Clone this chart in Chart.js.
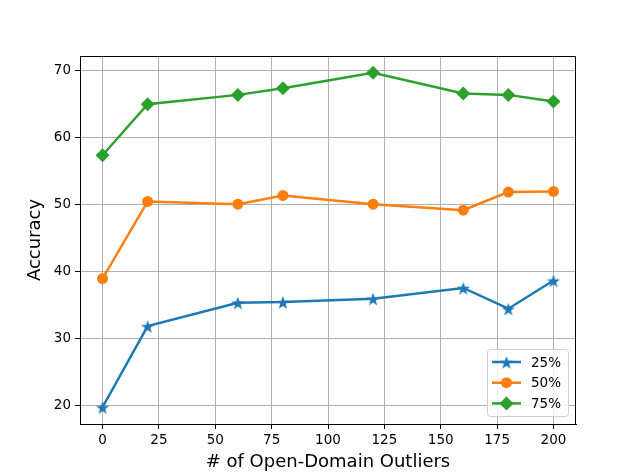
<!DOCTYPE html>
<html>
<head>
<meta charset="utf-8">
<script src="https://cdn.jsdelivr.net/npm/chart.js@4/dist/chart.umd.min.js"></script>
<style>
  html, body { margin: 0; padding: 0; background: #fff; }
  #wrap { width: 640px; height: 476px; }
</style>
</head>
<body>
<div id="wrap"><canvas id="accChart" width="640" height="476"></canvas></div>
<script>
// data
const outliers = [0, 20, 60, 80, 120, 160, 180, 200];
const acc25 = [19.7, 31.8, 35.3, 35.4, 35.9, 37.5, 34.4, 38.6];
const acc50 = [38.9, 50.4, 50.0, 51.3, 50.0, 49.1, 51.8, 51.9];
const acc75 = [57.3, 64.9, 66.3, 67.3, 69.6, 66.5, 66.3, 65.3];
const seriesLabels = ["25%", "50%", "75%"];
const xTicks = [0, 25, 50, 75, 100, 125, 150, 175, 200];
const yTicks = [20, 30, 40, 50, 60, 70];

const FONT = "'DejaVu Sans', sans-serif";
const BLUE = "#1f77b4", ORANGE = "#ff7f0e", GREEN = "#2ca02c";

// filled five-point star, matplotlib style
function makeStar(color, r) {
    const c = document.createElement("canvas");
    const s = Math.ceil(r * 2 + 4);
    c.width = s; c.height = s;
    const g = c.getContext("2d");
    g.fillStyle = color;
    g.beginPath();
    for (let i = 0; i < 10; i++) {
        const rr = i % 2 === 0 ? r : r * 0.4;
        const a = -Math.PI / 2 + i * Math.PI / 5;
        const px = s / 2 + rr * Math.cos(a), py = s / 2 + 1 + rr * Math.sin(a);
        i === 0 ? g.moveTo(px, py) : g.lineTo(px, py);
    }
    g.closePath();
    g.fill();
    return c;
}
const star = makeStar(BLUE, 7);

function pts(ys) { return outliers.map((x, i) => ({ x: x, y: ys[i] })); }

const ctx = document.getElementById("accChart").getContext("2d");

new Chart(ctx, {
    type: "line",
    data: {
        datasets: [{
            label: seriesLabels[0],
            data: pts(acc25),
            borderColor: BLUE,
            backgroundColor: BLUE,
            borderWidth: 2.5,
            pointStyle: star,
            pointRadius: 6
        }, {
            label: seriesLabels[1],
            data: pts(acc50),
            borderColor: ORANGE,
            backgroundColor: ORANGE,
            borderWidth: 2.5,
            pointStyle: "circle",
            pointRadius: 5.5,
            pointBorderWidth: 0
        }, {
            label: seriesLabels[2],
            data: pts(acc75),
            borderColor: GREEN,
            backgroundColor: GREEN,
            borderWidth: 2.5,
            pointStyle: "rectRot",
            pointRadius: 7,
            pointBorderWidth: 0
        }]
    },
    options: {
        responsive: false,
        animation: false,
        layout: { padding: { top: 56, right: 64, left: 25, bottom: 3 } },
        plugins: {
            legend: { display: false },
            tooltip: { enabled: false }
        },
        scales: {
            x: {
                type: "linear",
                min: -10,
                max: 210,
                afterBuildTicks: (axis) => { axis.ticks = xTicks.map(v => ({ value: v })); },
                afterFit: (axis) => { axis.height = 49; },
                ticks: { color: "#000", font: { family: FONT, size: 13.5 }, padding: 3, maxRotation: 0 },
                grid: { color: "#b0b0b0", lineWidth: 1, tickColor: "#000", tickLength: 5 },
                border: { color: "#000", width: 1 },
                title: { display: true, text: "# of Open-Domain Outliers", color: "#000",
                         font: { family: FONT, size: 18 }, padding: { top: 0, bottom: 0 } }
            },
            y: {
                min: 17.2,
                max: 72.1,
                afterBuildTicks: (axis) => { axis.ticks = yTicks.map(v => ({ value: v })); },
                afterFit: (axis) => { axis.width = 55; },
                ticks: { color: "#000", font: { family: FONT, size: 13.5 }, padding: 4 },
                grid: { color: "#b0b0b0", lineWidth: 1, tickColor: "#000", tickLength: 5 },
                border: { color: "#000", width: 1 },
                title: { display: true, text: "Accuracy", color: "#000",
                         font: { family: FONT, size: 18 }, padding: { top: 0, bottom: 4 } }
            }
        }
    },
    plugins: [{
        id: "frame",
        // closes the box on top and right like matplotlib
        afterDatasetsDraw: (chart) => {
            const a = chart.chartArea, c = chart.ctx;
            c.save();
            c.strokeStyle = "#000";
            c.lineWidth = 1;
            c.beginPath();
            c.moveTo(a.left, a.top + 0.5);
            c.lineTo(a.right - 0.5, a.top + 0.5);
            c.lineTo(a.right - 0.5, a.bottom);
            c.stroke();
            c.restore();
        }
    }, {
        id: "boxLegend",
        afterDraw: (chart) => {
            const a = chart.chartArea, c = chart.ctx;
            const w = 81, h = 67;
            const x0 = a.right - 8 - w, y0 = a.bottom - 8 - h;
            c.save();
            c.fillStyle = "rgba(255,255,255,0.8)";
            c.strokeStyle = "#d0d0d0";
            c.lineWidth = 1;
            c.beginPath();
            c.roundRect(x0 + 0.5, y0 + 0.5, w, h, 3);
            c.fill();
            c.stroke();
            chart.data.datasets.forEach((ds, i) => {
                const yy = y0 + 13 + i * 20.7;
                const mx = x0 + 19.5;
                c.strokeStyle = ds.borderColor;
                c.lineWidth = 2.5;
                c.beginPath();
                c.moveTo(x0 + 5, yy);
                c.lineTo(x0 + 34, yy);
                c.stroke();
                c.fillStyle = ds.backgroundColor;
                if (typeof ds.pointStyle !== "string") {
                    const im = ds.pointStyle;
                    c.drawImage(im, mx - im.width / 2, yy - im.height / 2);
                } else {
                    const r = ds.pointRadius;
                    c.beginPath();
                    if (ds.pointStyle === "circle") {
                        c.arc(mx, yy, r, 0, Math.PI * 2);
                    } else {
                        c.moveTo(mx, yy - r); c.lineTo(mx + r, yy);
                        c.lineTo(mx, yy + r); c.lineTo(mx - r, yy);
                        c.closePath();
                    }
                    c.fill();
                }
                c.fillStyle = "#000";
                c.font = "13.5px " + FONT;
                c.textBaseline = "middle";
                c.fillText(ds.label, x0 + 44, yy + 1);
            });
            c.restore();
        }
    }]
});
</script>
</body>
</html>
